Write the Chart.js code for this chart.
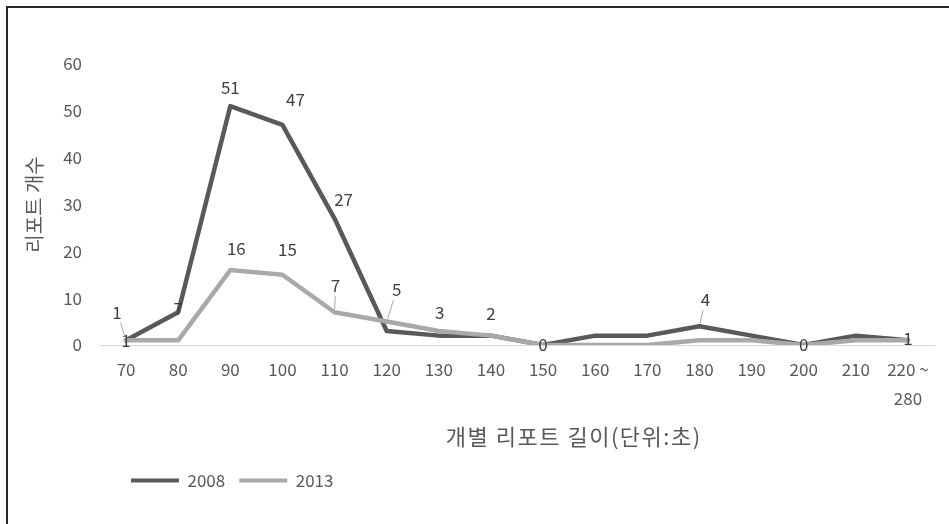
<!DOCTYPE html>
<html>
<head>
<meta charset="utf-8">
<script src="https://cdn.jsdelivr.net/npm/chart.js@4.4.1/dist/chart.umd.min.js"></script>
<style>
  html, body { margin: 0; padding: 0; background: #ffffff; }
  #wrap { width: 949px; height: 524px; position: relative; }
</style>
</head>
<body>
<div id="wrap"><canvas id="c" width="949" height="524"></canvas></div>
<script>
// ---- data ----
const categories = ['70', '80', '90', '100', '110', '120', '130', '140', '150', '160', '170', '180', '190', '200', '210', ['220 ~', '280']];
const series2008 = [1, 7, 51, 47, 27, 3, 2, 2, 0, 2, 2, 4, 2, 0, 2, 1];
const series2013 = [1, 1, 16, 15, 7, 5, 3, 2, 0, 0, 0, 1, 1, 0, 1, 1];
const yTicks = [0, 10, 20, 30, 40, 50, 60];
const xTitle = '개별 리포트 길이(단위:초)';
const yTitle = '리포트 개수';

// ---- label placement (offsets from the point, px; third = leader line) ----
const labelLayout = [
  { 0: [0, 0], 1: [0, -4], 2: [0, -19], 3: [13, -25], 4: [9, -19], 8: [0, 0], 11: [6, -27, true], 13: [0, 0], 15: [0, -2] },
  { 0: [-9, -28, true], 2: [6, -22], 3: [5, -25], 4: [1, -27, true], 5: [10, -32, true], 6: [1, -18], 7: [0, -22] }
];

const FONT = "'Noto Sans CJK KR', 'Noto Sans', sans-serif";
const TEXT = '#595959';

const labelPlugin = {
  id: 'valueLabels',
  afterUpdate(chart) {
    // nudge the legend to sit under the plot like the original
    if (chart.legend) { chart.legend.left += 17; chart.legend.right += 17; }
  },
  afterDatasetsDraw(chart) {
    const ctx = chart.ctx;
    ctx.save();
    ctx.font = '17px ' + FONT;
    ctx.textAlign = 'center';
    ctx.textBaseline = 'middle';
    chart.data.datasets.forEach((ds, di) => {
      const meta = chart.getDatasetMeta(di);
      const spec = labelLayout[di];
      Object.keys(spec).forEach(k => {
        const i = +k;
        const pt = meta.data[i];
        if (!pt) return;
        const [dx, dy, leader] = spec[k];
        const lx = pt.x + dx, ly = pt.y + dy;
        if (leader) {
          const vx = pt.x - lx, vy = pt.y - ly;
          const len = Math.hypot(vx, vy);
          const ux = vx / len, uy = vy / len;
          ctx.strokeStyle = '#a6a6a6';
          ctx.lineWidth = 1;
          ctx.beginPath();
          ctx.moveTo(lx + ux * 11, ly + uy * 11);
          ctx.lineTo(pt.x - ux * 3, pt.y - uy * 3);
          ctx.stroke();
        }
        ctx.fillStyle = '#404040';
        ctx.fillText(String(ds.data[i]), lx, ly);
      });
    });
    ctx.restore();
  },
  afterDraw(chart) {
    const ctx = chart.ctx;
    const a = chart.chartArea;
    ctx.save();
    // x axis title
    ctx.font = '22px ' + FONT;
    ctx.fillStyle = TEXT;
    ctx.textAlign = 'center';
    ctx.textBaseline = 'middle';
    if ('letterSpacing' in ctx) ctx.letterSpacing = '1.5px';
    ctx.fillText(xTitle, a.left + (a.right - a.left) * 0.568, a.bottom + 92);
    if ('letterSpacing' in ctx) ctx.letterSpacing = '0px';
    // frame
    ctx.fillStyle = '#262626';
    ctx.fillRect(6, 6, 2, chart.height - 6);
    ctx.fillRect(6, 6, chart.width - 6, 2);
    ctx.restore();
  }
};

new Chart(document.getElementById('c'), {
  type: 'line',
  data: {
    labels: categories,
    datasets: [
      { label: '2008', data: series2008, borderColor: '#595959', backgroundColor: '#595959', borderWidth: 4.5, order: 1 },
      { label: '2013', data: series2013, borderColor: '#a9a9a9', backgroundColor: '#a9a9a9', borderWidth: 4.5, order: 0 }
    ]
  },
  options: {
    responsive: false,
    animation: false,
    devicePixelRatio: 1,
    layout: { padding: { top: 64, left: 0, right: 15, bottom: 25 } },
    elements: {
      point: { radius: 0, hoverRadius: 0 },
      line: { tension: 0, borderJoinStyle: 'round', borderCapStyle: 'round' }
    },
    plugins: {
      legend: {
        position: 'bottom',
        align: 'start',
        fullSize: false,
        labels: {
          boxWidth: 48, boxHeight: 4, padding: 14,
          color: TEXT, font: { family: FONT, size: 17 },
          sort: (a, b) => a.datasetIndex - b.datasetIndex,
          generateLabels(chart) {
            const items = Chart.defaults.plugins.legend.labels.generateLabels(chart);
            items.forEach(it => { it.lineWidth = 0; it.strokeStyle = 'rgba(0,0,0,0)'; });
            return items;
          }
        }
      },
      tooltip: { enabled: false }
    },
    scales: {
      x: {
        offset: true,
        grid: { display: false, drawTicks: false },
        border: { display: true, color: '#d9d9d9', width: 1 },
        ticks: { color: TEXT, font: { family: FONT, size: 17, lineHeight: 1.65 }, padding: 11, maxRotation: 0, autoSkip: false },
        afterFit(scale) { scale.height = 113; }
      },
      y: {
        min: 0, max: 60,
        afterBuildTicks(scale) { scale.ticks = yTicks.map(v => ({ value: v })); },
        grid: { display: false, drawTicks: false },
        border: { display: false },
        ticks: { color: TEXT, font: { family: FONT, size: 17 }, padding: 18 },
        title: { display: true, text: yTitle, color: TEXT, font: { family: FONT, size: 20 }, padding: { top: 22, bottom: 0 } },
        afterFit(scale) { scale.width = 100; }
      }
    }
  },
  plugins: [labelPlugin]
});
</script>
</body>
</html>
